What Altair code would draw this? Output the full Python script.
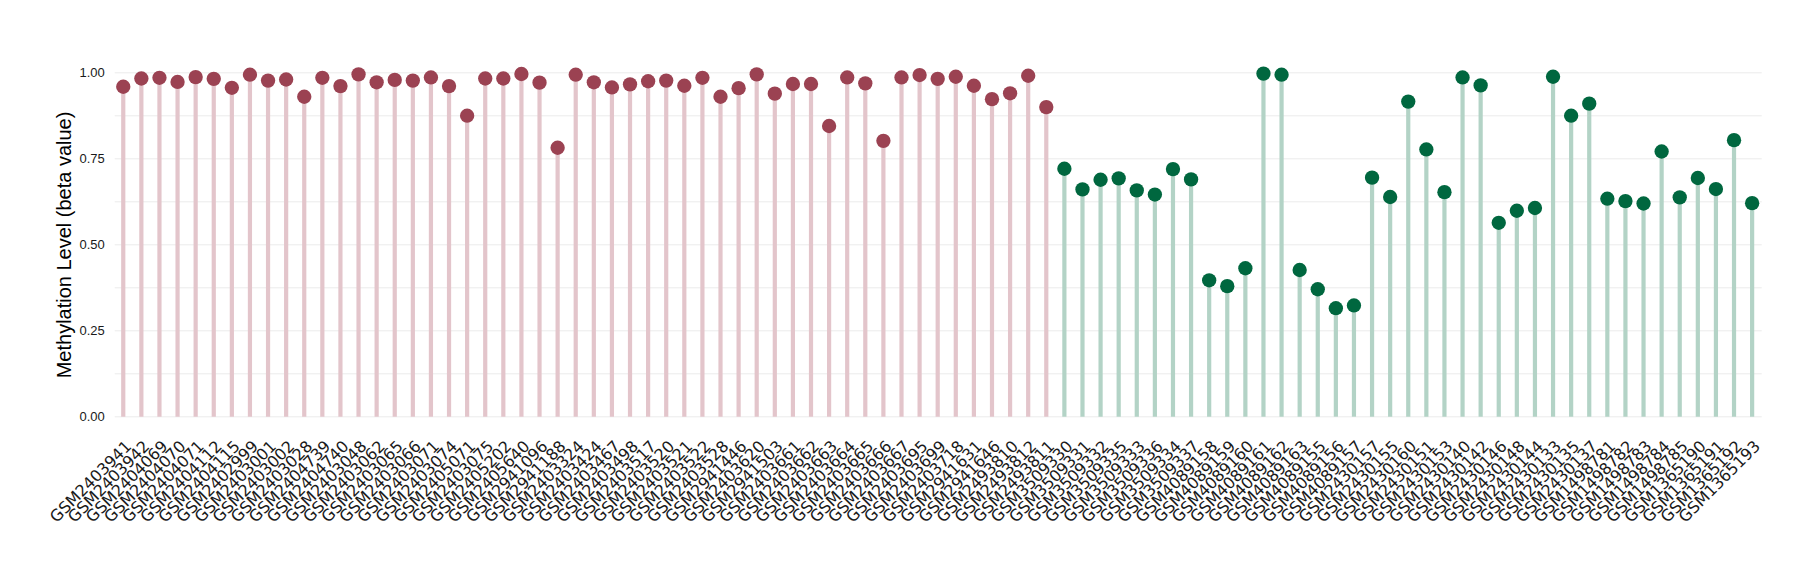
import altair as alt
import pandas as pd

red_samples = [
    "GSM2403941", "GSM2403942", "GSM2404069", "GSM2404070", "GSM2404071", "GSM2404112",
    "GSM2404115", "GSM2402999", "GSM2403001", "GSM2403002", "GSM2403028", "GSM2404739",
    "GSM2404740", "GSM2403048", "GSM2403062", "GSM2403065", "GSM2403066", "GSM2403071",
    "GSM2403074", "GSM2405071", "GSM2403075", "GSM2405202", "GSM2405640", "GSM2941096",
    "GSM2941188", "GSM2403324", "GSM2403424", "GSM2403467", "GSM2403498", "GSM2403517",
    "GSM2403520", "GSM2403521", "GSM2403522", "GSM2403528", "GSM2941446", "GSM2403620",
    "GSM2941503", "GSM2403661", "GSM2403662", "GSM2403663", "GSM2403664", "GSM2403665",
    "GSM2403666", "GSM2403667", "GSM2403695", "GSM2403699", "GSM2403718", "GSM2941631",
    "GSM2941646", "GSM2493810", "GSM2493812", "GSM2493811",
]
red_values = [
    0.958, 0.982, 0.984, 0.972, 0.986, 0.981, 0.955, 0.993, 0.976, 0.979, 0.929, 0.984,
    0.960, 0.994, 0.971, 0.978, 0.976, 0.985, 0.960, 0.874, 0.982, 0.982, 0.995, 0.970,
    0.781, 0.993, 0.971, 0.956, 0.965, 0.974, 0.976, 0.961, 0.984, 0.929, 0.954, 0.994,
    0.938, 0.966, 0.966, 0.844, 0.985, 0.968, 0.801, 0.985, 0.992, 0.981, 0.987, 0.961,
    0.922, 0.939, 0.990, 0.899,
]
green_samples = [
    "GSM3509330", "GSM3509331", "GSM3509332", "GSM3509335", "GSM3509333", "GSM3509336",
    "GSM3509334", "GSM3509337", "GSM4089158", "GSM4089159", "GSM4089160", "GSM4089161",
    "GSM4089162", "GSM4089163", "GSM4089155", "GSM4089156", "GSM4089157", "GSM2430157",
    "GSM2430155", "GSM2430160", "GSM2430151", "GSM2430153", "GSM2430140", "GSM2430142",
    "GSM2430146", "GSM2430148", "GSM2430144", "GSM2430133", "GSM2430135", "GSM2430137",
    "GSM1498781", "GSM1498782", "GSM1498783", "GSM1498784", "GSM1498785", "GSM1365190",
    "GSM1365191", "GSM1365192", "GSM1365193",
]
green_values = [
    0.720, 0.660, 0.688, 0.692, 0.657, 0.645, 0.719, 0.689, 0.396, 0.379, 0.431, 0.996,
    0.993, 0.426, 0.370, 0.315, 0.323, 0.694, 0.638, 0.915, 0.776, 0.652, 0.985, 0.962,
    0.563, 0.598, 0.606, 0.987, 0.874, 0.909, 0.633, 0.626, 0.619, 0.770, 0.637, 0.693,
    0.661, 0.803, 0.620,
]

groups = ["red", "green"]
stem_colors = ["#E3C5CB", "#B3D3C6"]
dot_colors = ["#9B4252", "#00673F"]

df = pd.DataFrame({
    "sample": red_samples + green_samples,
    "value": red_values + green_values,
    "group": ["red"] * len(red_samples) + ["green"] * len(green_samples),
})
order = list(df["sample"])

y_ticks = [0, 0.125, 0.25, 0.375, 0.5, 0.625, 0.75, 0.875, 1.0]

x_enc = alt.X(
    "sample:N",
    sort=order,
    title=None,
    axis=alt.Axis(
        labelAngle=315,
        labelAlign="right",
        labelBaseline="top",
        labelFont="DejaVu Sans",
        labelFontSize=16,
        labelColor="#1a1a1a",
        labelPadding=21,
        labelOverlap=False,
        ticks=False,
        domain=False,
        grid=False,
    ),
)
y_enc = alt.Y(
    "value:Q",
    scale=alt.Scale(domain=[0, 1], nice=False, zero=True),
    title="Methylation Level (beta value)",
    axis=alt.Axis(
        values=y_ticks,
        labelExpr="(datum.value * 4) % 1 == 0 ? format(datum.value, '.2f') : ''",
        labelFont="Liberation Sans",
        labelFontSize=13,
        labelColor="#1a1a1a",
        labelPadding=10,
        ticks=False,
        domain=False,
        grid=True,
        gridColor="#EBEBEB",
        gridWidth=1,
        titleFont="Liberation Sans",
        titleFontSize=20,
        titleFontWeight="normal",
        titleColor="#000000",
        titlePadding=4,
    ),
)

stems = alt.Chart(df).mark_rule(strokeWidth=4.2).encode(
    x=x_enc,
    y=y_enc,
    y2=alt.datum(0),
    color=alt.Color("group:N", scale=alt.Scale(domain=groups, range=stem_colors), legend=None),
)
dots = alt.Chart(df).mark_point(filled=True, opacity=1, size=205, shape="circle").encode(
    x=x_enc,
    y=y_enc,
    color=alt.Color("group:N", scale=alt.Scale(domain=groups, range=dot_colors), legend=None),
)

chart = (
    alt.layer(stems, dots)
    .resolve_scale(color="independent")
    .properties(
        width=1647,
        height=344.4,
        autosize=alt.AutoSizeParams(type="none"),
        padding={"left": 106.2, "top": 64.3, "right": 50, "bottom": 150},
        background="white",
    )
    .configure_view(stroke=None)
)

chart.save("out.html", embed_options={"renderer": "svg", "actions": False})
